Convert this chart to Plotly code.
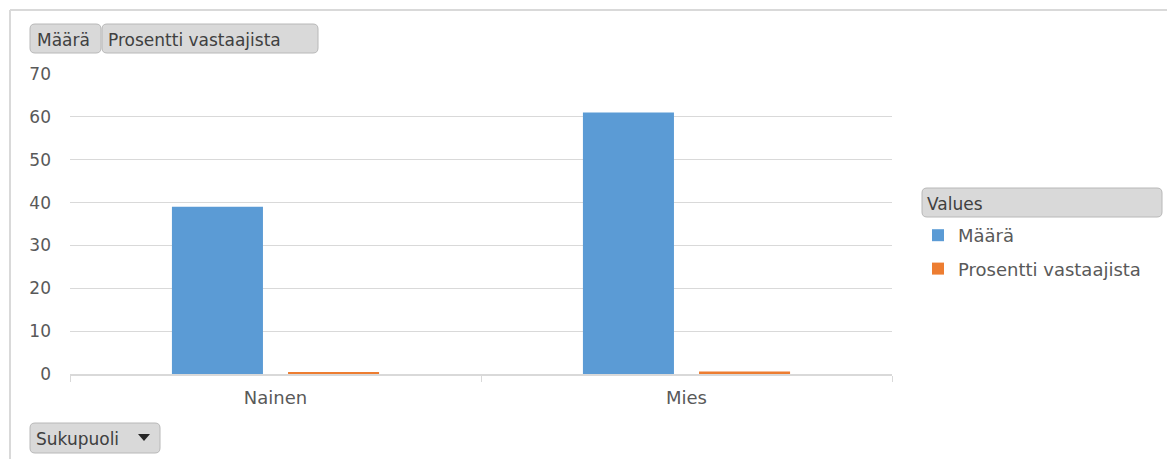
import plotly.graph_objects as go

categories = ["Nainen", "Mies"]
maara = [39, 61]
prosentti = [0.39, 0.61]
series_names = ["Määrä", "Prosentti vastaajista"]
y_ticks = [0, 10, 20, 30, 40, 50, 60, 70]

W, H = 1167, 459
ML, MR, MT, MB = 70, 275, 74, 85
PW, PH = W - ML - MR, H - MT - MB

def px(x):
    return (x - ML) / PW

def py(y):
    return (H - MB - y) / PH

def rrect(x0, y0, x1, y1, r=4):
    X0, X1 = px(x0), px(x1)
    Y0, Y1 = py(y0), py(y1)  # Y0 top (larger), Y1 bottom
    rx, ry = r / PW, r / PH
    return (f"M {X0+rx},{Y0} L {X1-rx},{Y0} Q {X1},{Y0} {X1},{Y0-ry} "
            f"L {X1},{Y1+ry} Q {X1},{Y1} {X1-rx},{Y1} L {X0+rx},{Y1} "
            f"Q {X0},{Y1} {X0},{Y1+ry} L {X0},{Y0-ry} Q {X0},{Y0} {X0+rx},{Y0} Z")

FONT = "DejaVu Sans"
GRAY = "#595959"

fig = go.Figure()
fig.add_trace(go.Bar(x=categories, y=maara, name=series_names[0],
                     marker=dict(color="#5B9BD5", line=dict(width=0)),
                     legendgroup="a"))
fig.add_trace(go.Bar(x=categories, y=prosentti, name=series_names[1],
                     marker=dict(color="#ED7D31", line=dict(width=0)),
                     legendgroup="b"))

shapes = []
# outer frame lines
shapes.append(dict(type="line", xref="paper", yref="paper",
                   x0=px(10), x1=px(1167), y0=py(10), y1=py(10),
                   line=dict(color="#d9d9d9", width=2)))
shapes.append(dict(type="line", xref="paper", yref="paper",
                   x0=px(10), x1=px(10), y0=py(10), y1=py(459),
                   line=dict(color="#d9d9d9", width=2)))

buttons = [
    (30, 24, 101, 53, "Määrä", 35),
    (102, 24, 318, 53, "Prosentti vastaajista", 106),
    (30, 423, 160, 453, "Sukupuoli", 34),
    (922, 188, 1162, 217, "Values", 925),
]
annotations = []
for (x0, y0, x1, y1, label, tx) in buttons:
    shapes.append(dict(type="path", xref="paper", yref="paper",
                       path=rrect(x0, y0, x1, y1, 5),
                       fillcolor="#d9d9d9", line=dict(color="#b8b8b8", width=1)))
    annotations.append(dict(text=label, xref="paper", yref="paper",
                            x=px(tx), y=py((y0 + y1) / 2 + 1), xanchor="left",
                            yanchor="middle", showarrow=False,
                            font=dict(family=FONT, size=17, color="#404040")))

# dropdown triangle
tx0, tx1, tyt, tyb = 138, 150, 434, 441
shapes.append(dict(type="path", xref="paper", yref="paper",
                   path=f"M {px(tx0)},{py(tyt)} L {px(tx1)},{py(tyt)} L {px((tx0+tx1)/2)},{py(tyb)} Z",
                   fillcolor="#262626", line=dict(width=0)))

fig.update_layout(
    width=W, height=H, autosize=False,
    margin=dict(l=ML, r=MR, t=MT, b=MB),
    paper_bgcolor="white", plot_bgcolor="white",
    barmode="group", bargap=0.435, bargroupgap=0.216,
    font=dict(family=FONT, color=GRAY),
    shapes=shapes, annotations=annotations,
    showlegend=True,
    legend=dict(x=px(918), y=py(217), xanchor="left", yanchor="top",
                traceorder="grouped", tracegroupgap=7,
                font=dict(family=FONT, size=18, color=GRAY),
                itemclick=False, bgcolor="rgba(0,0,0,0)"),
    xaxis=dict(type="category", showgrid=False, showline=True,
               linecolor="#d9d9d9", linewidth=1.5,
               ticks="outside", tickson="boundaries", ticklen=6,
               tickcolor="#d9d9d9", ticklabelstandoff=7,
               tickfont=dict(size=18, color=GRAY)),
    yaxis=dict(range=[0, 70], tickvals=y_ticks, showgrid=True,
               gridcolor="#d9d9d9", gridwidth=1, zeroline=False,
               showline=False, ticks="", ticklabelstandoff=18,
               tickfont=dict(size=17, color=GRAY)),
)

fig.write_html("out.html")
